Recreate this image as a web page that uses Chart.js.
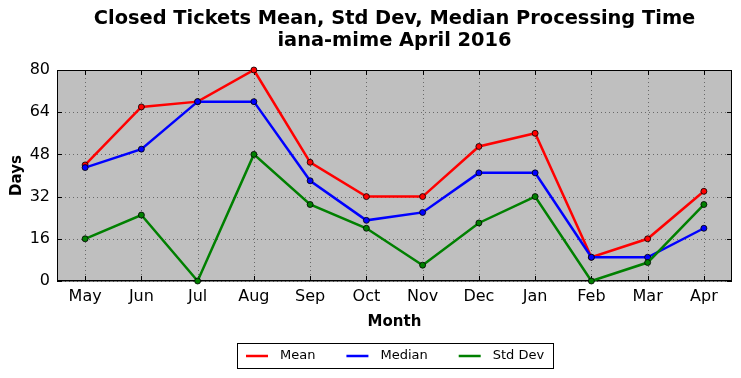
<!DOCTYPE html>
<html><head><meta charset="utf-8">
<script src="https://cdn.jsdelivr.net/npm/chart.js@4/dist/chart.umd.min.js"></script>
<style>html,body{margin:0;padding:0;background:#fff;}#wrap{width:741px;height:378px;}</style>
</head><body><div id="wrap"><canvas id="c" width="741" height="378"></canvas></div>
<script>
const months = ['May','Jun','Jul','Aug','Sep','Oct','Nov','Dec','Jan','Feb','Mar','Apr'];
const meanVals = [44,66,68,80,45,32,32,51,56,9,16,34];
const medianVals = [43,50,68,68,38,23,26,41,41,9,9,20];
const stdVals = [16,25,0,48,29,20,6,22,32,0,7,29];
const yTicks = [0,16,32,48,64,80];
const titleLines = ['Closed Tickets Mean, Std Dev, Median Processing Time','iana-mime April 2016'];
const FONT = "'DejaVu Sans', sans-serif";

const frame = {
  id:'frame',
  beforeDraw(chart){
    const a=chart.chartArea, ctx=chart.ctx, x=chart.scales.x, y=chart.scales.y;
    ctx.save(); ctx.fillStyle='#bfbfbf';
    ctx.fillRect(a.left,a.top,a.right-a.left,a.bottom-a.top);
    ctx.strokeStyle='rgba(0,0,0,0.45)'; ctx.lineWidth=1; ctx.setLineDash([1,3]);
    ctx.beginPath();
    y.ticks.forEach((t,i)=>{const p=Math.round(y.getPixelForTick(i))+0.5;
      ctx.moveTo(a.left,p);ctx.lineTo(a.right,p);});
    x.ticks.forEach((t,i)=>{const p=Math.round(x.getPixelForTick(i))+0.5;
      ctx.moveTo(p,a.top);ctx.lineTo(p,a.bottom);});
    ctx.stroke();
    ctx.restore();
    ctx.save();
    ctx.font='bold 19.4px '+FONT; ctx.fillStyle='#000'; ctx.textAlign='center'; ctx.textBaseline='middle';
    const cx=(a.left+a.right)/2;
    titleLines.forEach((t,i)=>ctx.fillText(t,cx,19+i*22));
    ctx.restore();
  },
  beforeDatasetsDraw(chart){
    const a=chart.chartArea, ctx=chart.ctx, x=chart.scales.x, y=chart.scales.y;
    ctx.save();
    ctx.fillStyle='#000';
    const L=5;
    const l=Math.round(a.left), r=Math.round(a.right), t=Math.round(a.top), b=Math.round(a.bottom);
    y.ticks.forEach((tk,i)=>{const p=Math.round(y.getPixelForTick(i));
      ctx.fillRect(l,p,L,1); ctx.fillRect(r-L,p,L,1);});
    x.ticks.forEach((tk,i)=>{const p=Math.round(x.getPixelForTick(i));
      ctx.fillRect(p,t,1,L); ctx.fillRect(p,b-L,1,L);});
    ctx.fillRect(l,t,r-l,1); ctx.fillRect(l,b-1,r-l,1.5);
    ctx.fillRect(l,t,1,b-t); ctx.fillRect(r-1,t,1,b-t);
    ctx.restore();
  }
};

const boxLegend = {
  id:'boxLegend',
  afterDraw(chart){
    const ctx=chart.ctx, a=chart.chartArea;
    ctx.save();
    ctx.font='13px '+FONT;
    const lineW=22, gapT=12, gapI=31, pad=9;
    const items=chart.data.datasets.map(d=>({label:d.label,color:d.borderColor,w:lineW+gapT+ctx.measureText(d.label).width}));
    const total=Math.round(pad*2+items.reduce((s,i)=>s+i.w,0)+gapI*(items.length-1));
    const cx=(a.left+a.right)/2;
    let x0=Math.round(cx-total/2), top=343, h=25;
    ctx.fillStyle='#fff'; ctx.fillRect(x0,top,total,h);
    ctx.strokeStyle='#000'; ctx.lineWidth=1; ctx.strokeRect(x0+0.5,top+0.5,total,h);
    let x=x0+pad; const yc=top+h/2+0.5;
    items.forEach(it=>{
      ctx.strokeStyle=it.color; ctx.lineWidth=2.5;
      ctx.beginPath(); ctx.moveTo(x,yc); ctx.lineTo(x+lineW,yc); ctx.stroke();
      ctx.fillStyle='#000'; ctx.textBaseline='middle'; ctx.textAlign='left';
      ctx.fillText(it.label,x+lineW+gapT,yc);
      x+=it.w+gapI;
    });
    ctx.restore();
  }
};

function ds(label,data,color,order){
  return {label,data,borderColor:color,backgroundColor:color,borderWidth:2.5,
    pointRadius:3,pointHoverRadius:3,pointBackgroundColor:color,pointBorderColor:'#000',pointBorderWidth:0.8,
    tension:0,clip:false,order};
}

new Chart(document.getElementById('c'),{
  type:'line',
  data:{labels:months,datasets:[
    ds('Mean',meanVals,'#ff0000',3),
    ds('Median',medianVals,'#0000ff',2),
    ds('Std Dev',stdVals,'#008000',1)
  ]},
  options:{
    responsive:false,animation:false,devicePixelRatio:1,
    layout:{padding:{top:70,left:0,right:9,bottom:47}},
    plugins:{
      legend:{display:false},tooltip:{enabled:false},title:{display:false}
    },
    scales:{
      x:{offset:true,
        grid:{display:false,drawTicks:false},
        border:{display:false},
        ticks:{color:'#000',font:{family:FONT,size:16},padding:6,maxRotation:0,autoSkip:false},
        title:{display:true,text:'Month',color:'#000',font:{family:FONT,size:15,weight:'bold'},padding:{top:5,bottom:0}},
        afterFit(s){s.height=50;}
      },
      y:{min:0,max:80,
        afterBuildTicks(s){s.ticks=yTicks.map(v=>({value:v}));},
        grid:{display:false,drawTicks:false},
        border:{display:false},
        ticks:{color:'#000',font:{family:FONT,size:16},padding:7},
        title:{display:true,text:'Days',color:'#000',font:{family:FONT,size:15,weight:'bold'},padding:{top:8,bottom:0}},
        afterFit(s){s.width=57;}
      }
    }
  },
  plugins:[frame,boxLegend]
});
</script></body></html>
